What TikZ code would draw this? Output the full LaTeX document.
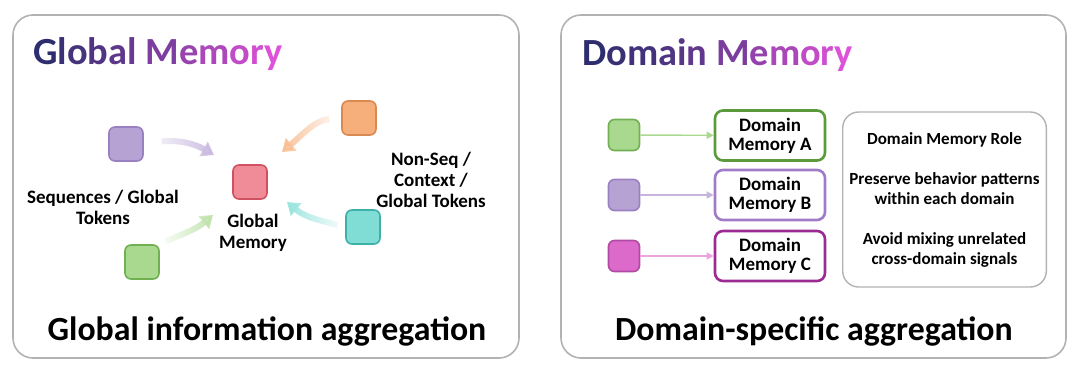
\documentclass[tikz,border=0pt]{standalone}
\usepackage{fontspec}
\setmainfont{Carlito}
\usetikzlibrary{arrows.meta,fadings}

\definecolor{ttlA}{HTML}{2E2E6E}
\definecolor{ttlB}{HTML}{DD52D8}
\definecolor{purF}{HTML}{B7A2D4} \definecolor{purD}{HTML}{9A80C0}
\definecolor{redF}{HTML}{F08C98} \definecolor{redD}{HTML}{D05262}
\definecolor{orgF}{HTML}{F6AE7A} \definecolor{orgD}{HTML}{D98A52}
\definecolor{tealF}{HTML}{7FDDD5} \definecolor{tealD}{HTML}{3FB0A8}
\definecolor{grnF}{HTML}{A9D98E} \definecolor{grnD}{HTML}{70B052}
\definecolor{magF}{HTML}{DB6ACB} \definecolor{magD}{HTML}{B04AA2}
\definecolor{boxA}{HTML}{5A9A3A} \definecolor{boxB}{HTML}{A07CC8}
\definecolor{boxC}{HTML}{9C2A92}

% letter of the gradient title
\newcommand\gc[2]{\textcolor{ttlB!#1!ttlA}{#2}}

\tikzset{
  panel/.style={draw=gray!60, line width=0.8pt, rounded corners=10pt},
  tok/.style={draw, line width=0.8pt, rounded corners=3pt, minimum size=17pt, inner sep=0pt},
  ttl/.style={font=\bfseries\fontsize{19.2}{22}\selectfont, inner sep=0pt},
  capt/.style={font=\bfseries\fontsize{16.9}{19}\selectfont, inner sep=0pt},
  lbl/.style={font=\bfseries\fontsize{9.5}{10.5}\selectfont, align=center, inner sep=0pt},
  dombox/.style={draw, line width=1.3pt, rounded corners=4pt, minimum width=55pt, minimum height=25pt,
    inner sep=0pt, align=center, font=\bfseries\fontsize{9.5}{9.5}\selectfont},
  infobox/.style={draw=gray!60, line width=0.7pt, rounded corners=8pt, minimum width=99.5pt,
    minimum height=87.5pt, align=center, font=\bfseries\fontsize{8.5}{10}\selectfont},
  flow/.style={line width=3pt, -{Triangle[length=6pt,width=8pt]}},
  link/.style={line width=0.7pt, -{Triangle[length=3.5pt,width=3.5pt]}},
}

\begin{document}
\begin{tikzpicture}[x=0.5pt, y=0.5pt]
  \useasboundingbox (0,0) rectangle (1080,376);

  % panels
  \draw[panel] (13,18) rectangle (519,361);
  \draw[panel] (561,18) rectangle (1066,361);

  % left: global memory
  \node[ttl, anchor=base west] (gtitle) at (33,312)
    {\gc{0}{G}\gc{7}{l}\gc{13}{o}\gc{20}{b}\gc{27}{a}\gc{33}{l} \gc{46}{M}\gc{60}{e}\gc{72}{m}\gc{84}{o}\gc{92}{r}\gc{100}{y}};

  \node[tok, fill=purF, draw=purD] (pur) at (126,232) {};
  \node[tok, fill=redF, draw=redD] (gm) at (250,194) {};
  \node[tok, fill=orgF, draw=orgD] (org) at (359,258) {};
  \node[tok, fill=tealF, draw=tealD] (teal) at (363,149) {};
  \node[tok, fill=grnF, draw=grnD] (grn) at (142,114) {};

  \coordinate (purTip) at (214,221);
  \coordinate (orgTip) at (282,224);
  \coordinate (grnTip) at (213,161);
  \coordinate (tealTip) at (287,174);

  \draw[flow, purF!75, path fading=west, shorten <=9pt] (pur.east) to[out=8, in=150] (purTip);
  \draw[flow, orgF!80, path fading=east, shorten <=6pt] (org.west) to[out=185, in=40] (orgTip);
  \draw[flow, grnF!75, path fading=west, shorten <=3pt] (grn.north east) to[out=25, in=220] (grnTip);
  \draw[flow, tealF!80, path fading=east, shorten <=4pt] (teal.west) to[out=165, in=-40] (tealTip);

  \node[lbl] (seqlbl) at (103,169) {Sequences / Global\\Tokens};
  \node[lbl] (gmlbl) at (253,143) {Global\\Memory};
  \node[lbl] (nslbl) at (431,196) {Non-Seq /\\Context /\\Global Tokens};

  \node[capt, anchor=base] (gcap) at (267,36) {Global information aggregation};

  % right: domain memory
  \node[ttl, anchor=base west] (dtitle) at (582,311)
    {\gc{0}{D}\gc{6}{o}\gc{12}{m}\gc{19}{a}\gc{24}{i}\gc{29}{n} \gc{44}{M}\gc{58}{e}\gc{71}{m}\gc{84}{o}\gc{92}{r}\gc{100}{y}};

  \node[tok, minimum size=15.5pt, fill=grnF, draw=grnD] (dg) at (624,241) {};
  \node[tok, minimum size=15.5pt, fill=purF, draw=purD] (dp) at (624,181) {};
  \node[tok, minimum size=15.5pt, fill=magF, draw=magD] (dm) at (624,120) {};

  \node[dombox, draw=boxA] (dmA) at (770,240.5) {Domain\\Memory A};
  \node[dombox, draw=boxB] (dmB) at (770,181) {Domain\\Memory B};
  \node[dombox, draw=boxC] (dmC) at (770,120) {Domain\\Memory C};

  \draw[link, grnF] (dg) -- (dmA);
  \draw[link, purF!80] (dp) -- (dmB);
  \draw[link, magF!60] (dm) -- (dmC);

  \node[infobox] (role) at (944.5,176.5)
    {Domain Memory Role\\[10pt]Preserve behavior patterns\\within each domain\\[10pt]Avoid mixing unrelated\\cross-domain signals};

  \node[capt, anchor=base] (dcap) at (814,36) {Domain-specific aggregation};
\end{tikzpicture}
\end{document}
